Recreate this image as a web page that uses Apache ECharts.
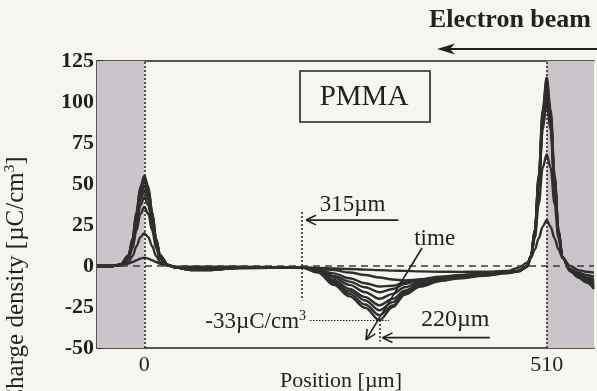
<!DOCTYPE html>
<html>
<head>
<meta charset="utf-8">
<script src="https://cdn.jsdelivr.net/npm/echarts@6/dist/echarts.min.js"></script>
<style>
  html, body { margin: 0; padding: 0; background: #f6f5f0; }
  #chart { width: 597px; height: 391px; }
</style>
</head>
<body>
<div id="chart"></div>
<script>
// Sample positions across the specimen [µm]
const positions = [-60, -40, -30, -20, -15, -10, -5, 0, 5, 10, 15, 20, 30, 40, 60, 80, 120, 200,
  220, 240, 260, 280, 298, 315, 330, 350, 375, 400, 430, 460, 475, 485, 490, 495, 500, 505, 510,
  515, 520, 525, 530, 540, 550, 560, 570];

// Charge density profiles [µC/cm³], earliest to latest
const profileT1 = [0, 0, 0.4, 1.5, 2.4, 3.5, 4.5, 5, 4.5, 3.5, 2.4, 1.3, 0.2, -0.5, -0.5, -0.5, -0.5, -1,
  -1.2, -1.5, -1.8, -2.2, -2.5, -2.8, -3, -3.3, -3.5, -3.6, -3.5, -3, -1, 2, 5, 10, 17, 24, 28,
  24, 17, 10, 5, 0, -2.5, -3.5, -4];
const profileT2 = [0, 0, 0.4, 2.4, 6, 12, 17.6, 20, 17.6, 12, 6, 2.4, 0.2, -0.8, -1.5, -1.5, -1, -1,
  -1.5, -2.5, -4, -5.5, -7, -8.2, -8.8, -8.3, -7, -5.8, -4.8, -3.8, -3, 0, 6, 17, 38, 60, 68,
  60, 38, 17, 5, -2, -4, -5.5, -6.5];
const profileT3 = [0, 0, 0.7, 4.3, 10.8, 21.6, 31.7, 36, 31.7, 21.6, 10.8, 4.3, 0.4, -1, -2, -2, -1, -1,
  -2, -4.5, -7.5, -10.5, -12.5, -12, -10, -8, -6.5, -5.5, -4.5, -3.5, -2.8, -0.5, 5, 19, 48, 83, 100,
  83, 48, 19, 5, -2.5, -5, -7, -8];
const profileT4 = [0, 0, 0.8, 5, 12.6, 25.2, 37, 42, 37, 25.2, 12.6, 5, 0.5, -1, -2, -2, -1, -1,
  -2.3, -6, -9.5, -13, -16, -14, -11, -8.5, -7, -6, -4.8, -3.6, -3, -0.5, 5.2, 19.5, 49.5, 85.5, 103,
  85.5, 49.5, 19.5, 5, -2.7, -5.3, -7.5, -9];
const profileT5 = [0, 0, 0.9, 5.5, 13.8, 27.6, 40.5, 46, 40.5, 27.6, 13.8, 5.5, 0.5, -1, -2.2, -2.2, -1.1, -1,
  -2.6, -7, -11.5, -16, -20, -17, -13, -9.5, -7.5, -6.3, -5, -3.8, -3, -0.4, 5.5, 20, 51, 88, 106,
  88, 51, 20, 5.2, -2.8, -5.6, -8, -10];
const profileT6 = [0, 0, 1, 5.9, 14.7, 29.4, 43.1, 49, 43.1, 29.4, 14.7, 5.9, 0.6, -1, -2.3, -2.3, -1.1, -1,
  -3, -8.5, -14, -19, -24, -20, -15, -10.5, -8, -6.6, -5.2, -4, -3, -0.4, 5.7, 21, 52.5, 90.5, 109,
  90.5, 52.5, 21, 5.3, -3, -6, -8.5, -11];
const profileT7 = [0, 0, 1, 6.2, 15.6, 31.2, 45.8, 52, 45.8, 31.2, 15.6, 6.2, 0.6, -1, -2.4, -2.4, -1.2, -1,
  -3.3, -9.5, -15.5, -21, -27, -22, -16, -11.5, -8.5, -7, -5.5, -4, -3, -0.3, 5.9, 21.4, 53.5, 92, 111,
  92, 53.5, 21.4, 5.4, -3, -6.3, -9, -12];
const profileT8 = [0, 0, 1.1, 6.5, 16.2, 32.4, 47.5, 54, 47.5, 32.4, 16.2, 6.5, 0.6, -1, -2.5, -2.5, -1.2, -1,
  -3.6, -10.5, -17, -23.5, -30, -24, -17, -12, -9, -7.3, -5.7, -4.2, -3.2, -0.3, 6, 21.8, 54.5, 93.5, 113,
  93.5, 54.5, 21.8, 5.5, -3.2, -6.6, -9.5, -13];
const profileT9 = [0, 0, 1.1, 6.6, 16.5, 33, 48.4, 55, 48.4, 33, 16.5, 6.6, 0.6, -1, -2.5, -2.5, -1.2, -1,
  -4, -11.5, -18.5, -25.5, -33, -25, -17.5, -12.5, -9.2, -7.5, -6, -4.4, -3.3, -0.2, 6.2, 22.3, 55.5, 95.5, 115,
  95.5, 55.5, 22.3, 5.6, -3.3, -7, -10, -14];

// Electrode regions and axis labels
const electrodeRegions = [[-60, 0], [510, 570]];
const xTickLabels = [0, 510];
const yTickValues = [-50, -25, 0, 25, 50, 75, 100, 125];

const profiles = [profileT1, profileT2, profileT3, profileT4, profileT5,
  profileT6, profileT7, profileT8, profileT9];

const INK = '#222';
const SERIF = 'Liberation Serif';

const chart = echarts.init(document.getElementById('chart'));

const curveSeries = profiles.map((vals, i) => ({
  type: 'line',
  name: 't' + (i + 1),
  data: positions.map((x, j) => [x, vals[j]]),
  smooth: 0.35,
  smoothMonotone: 'x',
  showSymbol: false,
  symbol: 'none',
  silent: true,
  z: 4,
  lineStyle: { color: '#2f2f2f', width: 2.4 }
}));

const dotted = { type: [2, 2], color: INK, width: 1.5 };

chart.setOption({
  animation: false,
  backgroundColor: '#f6f5f0',
  grid: { left: 97, right: -6, top: 61, bottom: 43, containLabel: false },
  xAxis: [{
    type: 'value', min: -60, max: 570, interval: 30,
    axisLine: { show: true, onZero: false, lineStyle: { color: INK, width: 1.5 } },
    axisTick: { show: false },
    splitLine: { show: false },
    axisLabel: {
      margin: 6, fontFamily: SERIF, fontSize: 22, color: INK,
      formatter: v => (xTickLabels.indexOf(v) >= 0 ? String(v) : '')
    }
  }, {
    type: 'value', position: 'top', min: -60, max: 570,
    axisLine: { show: true, onZero: false, lineStyle: { color: INK, width: 1.5 } },
    axisTick: { show: false }, axisLabel: { show: false }, splitLine: { show: false }
  }],
  yAxis: {
    type: 'value', min: -50, max: 125, interval: 25,
    axisLine: { show: true, onZero: false, lineStyle: { color: INK, width: 1.5 } },
    axisTick: { show: true, inside: true, length: 6, lineStyle: { color: INK, width: 1.5 } },
    minorTick: { show: true, splitNumber: 2, length: 6, lineStyle: { color: INK, width: 1.5 } },
    splitLine: { show: false },
    axisLabel: {
      margin: 3, fontFamily: SERIF, fontSize: 22, fontWeight: 'bold', color: INK,
      formatter: v => (yTickValues.indexOf(v) >= 0 ? String(v) : '')
    }
  },
  series: [{
    type: 'line', data: [], z: 1, silent: true,
    markArea: {
      silent: true,
      itemStyle: { color: '#cbc5cb' },
      data: electrodeRegions.map(r => [{ xAxis: r[0] }, { xAxis: r[1] }])
    }
  }, {
    type: 'line', data: [], z: 2, silent: true,
    markLine: {
      silent: true, symbol: 'none', label: { show: false },
      data: [
        { yAxis: 0, lineStyle: { type: [7, 5], color: '#3a3a3a', width: 1.5 } },
        [{ coord: [200, 33] }, { coord: [200, -21], lineStyle: dotted }],
        [{ coord: [298, -33] }, { coord: [298, -46], lineStyle: dotted }],
        [{ coord: [210, -33] }, { coord: [310, -33], lineStyle: { type: [1.5, 1.5], color: INK, width: 1 } }]
      ]
    }
  }].concat(curveSeries).concat([{
    type: 'line', data: [], z: 5, silent: true,
    markLine: {
      silent: true, symbol: 'none', label: { show: false },
      data: xTickLabels.map(v => ({ xAxis: v, lineStyle: dotted }))
    }
  }])
});

// Annotations
const px = (x, y) => chart.convertToPixel({ gridIndex: 0 }, [x, y]);
const lineStyle = { stroke: INK, lineWidth: 1.6 };

function seg(a, b, style) {
  return { type: 'line', silent: true, z: 10,
    shape: { x1: a[0], y1: a[1], x2: b[0], y2: b[1] }, style: style || lineStyle };
}
// straight arrow with an open chevron head
function openArrow(tail, head, size) {
  const ang = Math.atan2(tail[1] - head[1], tail[0] - head[0]);
  const s = size || 10, spread = 0.45;
  const p1 = [head[0] + s * Math.cos(ang + spread), head[1] + s * Math.sin(ang + spread)];
  const p2 = [head[0] + s * Math.cos(ang - spread), head[1] + s * Math.sin(ang - spread)];
  return [seg(tail, head), seg(p1, head), seg(p2, head)];
}
function label(text, pos, size, extra) {
  return Object.assign({ type: 'text', silent: true, z: 10, x: pos[0], y: pos[1],
    style: Object.assign({ text: text, fontFamily: SERIF, fontSize: size, fill: INK,
      textAlign: 'center', textVerticalAlign: 'middle' }, extra || {}) });
}

const W = chart.getWidth();
const graphics = [];

// title arrow for the irradiation direction
graphics.push(label('Electron beam', [510, 20], 26, { fontWeight: 'bold' }));
graphics.push(seg([W, 49], [447, 49], { stroke: INK, lineWidth: 2 }));
graphics.push({ type: 'polygon', silent: true, z: 10,
  shape: { points: [[437, 49], [455, 43.5], [450, 49], [455, 54.5]] }, style: { fill: INK } });

// material box
graphics.push({ type: 'rect', silent: true, z: 10, shape: { x: 300, y: 71, width: 130, height: 51 },
  style: { fill: 'rgba(0,0,0,0)', stroke: INK, lineWidth: 1.6 } });
graphics.push(label('PMMA', [364, 97], 29));

// penetration depth marks
graphics.push(label('315µm', px(264, 37.5), 23));
openArrow(px(322, 28), px(205, 28), 11).forEach(g => graphics.push(g));
graphics.push(label('220µm', px(394, -32.5), 24));
openArrow(px(438, -43.7), px(302, -43.7), 11).forEach(g => graphics.push(g));

// time direction
graphics.push(label('time', px(368, 16.5), 23));
openArrow(px(352, 11), px(281, -45), 11).forEach(g => graphics.push(g));

// peak depth of negative charge
const m33 = px(205, -33.6);
graphics.push({ type: 'text', silent: true, z: 10, x: m33[0], y: m33[1],
  style: { text: '{n|-33µC/cm}{s|3}', textAlign: 'right', textVerticalAlign: 'middle',
    rich: { n: { fontFamily: SERIF, fontSize: 23, fill: INK, verticalAlign: 'bottom', lineHeight: 24 },
            s: { fontFamily: SERIF, fontSize: 14, fill: INK, verticalAlign: 'top', lineHeight: 24, padding: [0, 0, 10, 0] } } } });

// axis titles
graphics.push(label('Position [µm]', [341, 381], 22));
graphics.push({ type: 'text', silent: true, z: 10, x: 16, y: 281, rotation: Math.PI / 2,
  style: { text: '{n|Charge density [µC/cm}{s|3}{n|]}', textAlign: 'center', textVerticalAlign: 'middle',
    rich: { n: { fontFamily: SERIF, fontSize: 25, fill: INK, lineHeight: 27 },
            s: { fontFamily: SERIF, fontSize: 15, fill: INK, lineHeight: 27, padding: [0, 0, 12, 0] } } } });

chart.setOption({ graphic: graphics });
</script>
</body>
</html>
